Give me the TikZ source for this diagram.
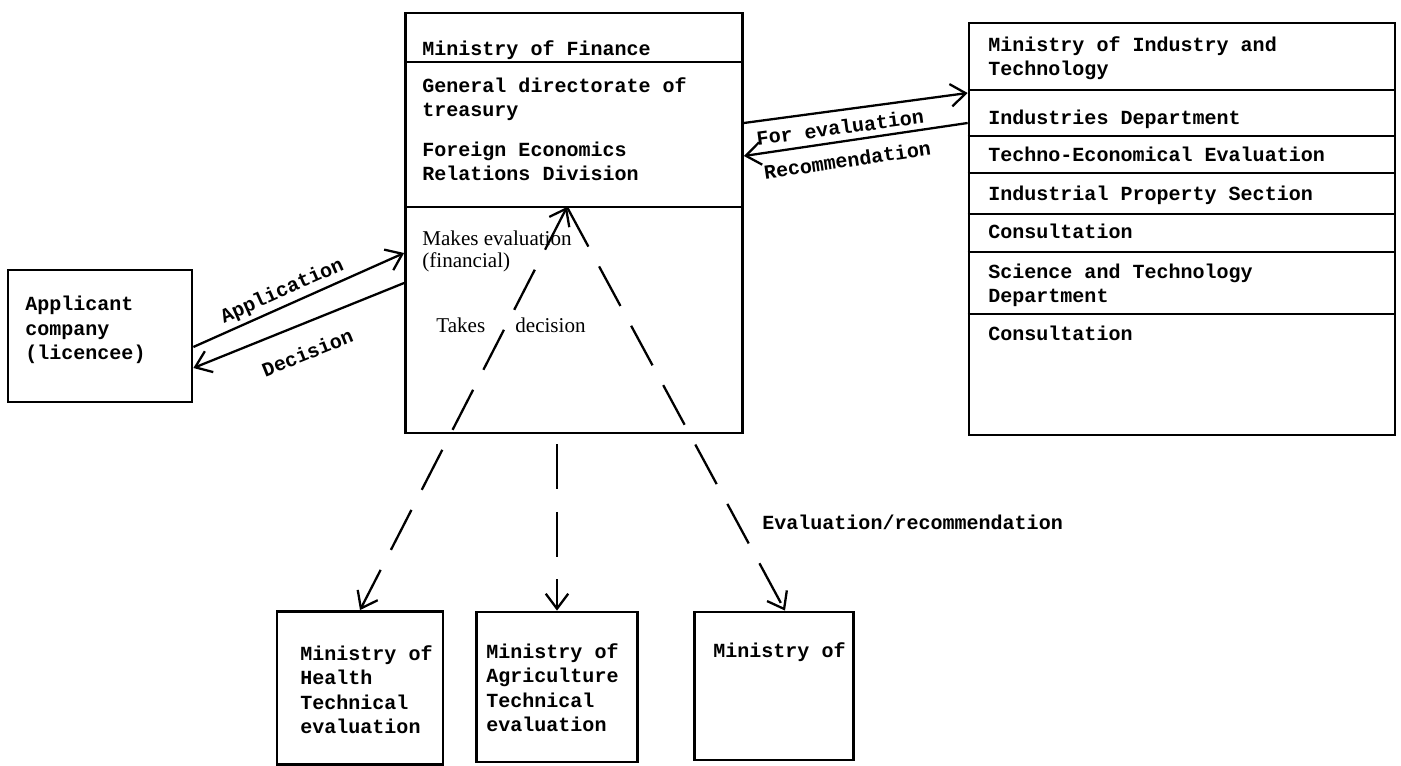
\documentclass[tikz,border=0pt]{standalone}
\usepackage{fontspec}
\setmonofont{Liberation Mono}
\newfontfamily\handfont{Liberation Serif}
\usetikzlibrary{arrows.meta}
\tikzset{box/.style={draw, rectangle, line width=1.6pt, inner sep=0pt},
	txt/.style={font=\ttfamily\bfseries\fontsize{11.4}{14}\selectfont, inner sep=0pt, anchor=base west, align=left},
	note/.style={font=\handfont\fontsize{12}{13}\selectfont, inner sep=0pt, anchor=base west, align=left},
	lab/.style={font=\ttfamily\bfseries\fontsize{11.4}{14}\selectfont, inner sep=0pt, sloped},
	link/.style={line width=1.3pt, ->},
	dashlink/.style={link, dash pattern=on 0.9cm off 0.45cm},
	>={Straight Barb[length=3mm,width=4.5mm]}}

\begin{document}
\begin{tikzpicture}[x=0.02cm, y=-0.02cm]
		\useasboundingbox (0,0) rectangle (1401,766);
		% boxes
		\node[box, minimum width=3.68cm, minimum height=2.64cm] (applicant) at (100,336){};
		\node[box, minimum width=6.74cm, minimum height=8.4cm] (finance) at (574,223){};
		\node[box, minimum width=8.52cm, minimum height=8.24cm] (industry) at (1182,229){};
		\node[box, minimum width=3.32cm, minimum height=3.06cm] (health) at (360,688){};
		\node[box, minimum width=3.22cm, minimum height=3.0cm] (agri) at (557,687){};
		\node[box, minimum width=3.18cm, minimum height=2.96cm] (other) at (774,686){};
		% compartments
		\draw[line width=1.3pt] (finance.west |- 0,62) -- (finance.east |- 0,62);
		\draw[line width=1.3pt] (finance.west |- 0,207) -- (finance.east |- 0,207);
		\foreach \yy in {90,136,173,214,252,314}
			\draw[line width=1.3pt] (industry.west |- 0,\yy) -- (industry.east |- 0,\yy);
		% texts (base = last line)
		\node[txt] (appname) at (25,360){Applicant\\company\\(licencee)};
		\node[txt] (finname) at (422,56){Ministry of Finance};
		\node[txt] (findir) at (422,117){General directorate of\\treasury};
		\node[txt] (findiv) at (422,181){Foreign Economics\\Relations Division};
		\node[note] (finmake) at (422,268){Makes evaluation\\(financial)};
		\node[note] (fintake) at (436,333){Takes};
		\node[note] (findec) at (515,333){decision};
		\node[txt] (indname) at (988,76){Ministry of Industry and\\Technology};
		\node[txt] (inddep) at (988,125){Industries Department};
		\node[txt] (indeval) at (988,162){Techno-Economical Evaluation};
		\node[txt] (indprop) at (988,201){Industrial Property Section};
		\node[txt] (indcons) at (988,239){Consultation};
		\node[txt] (indsci) at (988,303){Science and Technology\\Department};
		\node[txt] (indcons2) at (988,341){Consultation};
		\node[txt] (healthname) at (300,734){Ministry of\\Health\\Technical\\evaluation};
		\node[txt] (agriname) at (486,732){Ministry of\\Agriculture\\Technical\\evaluation};
		\node[txt] (othername) at (713,658){Ministry of};
		\node[txt] (evalrec) at (762,530){Evaluation/recommendation};
		% arrows
		\draw[link] (applicant.east |- 0,347) -- node[lab, above=0.08cm, pos=0.45]{Application} (finance.west |- 0,253);
		\draw[link, <-] (applicant.east |- 0,368) -- node[lab, below=0.4cm, pos=0.49]{Decision} (finance.west |- 0,283);
		\draw[link] (finance.east |- 0,123) -- node[lab, below=0.17cm, pos=0.42]{For evaluation} (industry.west |- 0,93);
		\draw[link, <-] (finance.east |- 0,156) -- node[lab, below=0.21cm, pos=0.45]{Recommendation} (industry.west |- 0,123);
		% dashed arrows
		\coordinate (apex) at (567,207);
		\draw[dashlink, <->] (apex) -- (health.north);
		\draw[dashlink] (apex) -- ([xshift=0.22cm]other.north);
		\draw[dashlink, shorten <=0.2cm] (finance.south -| agri.north) -- (agri.north);
\end{tikzpicture}
\end{document}
